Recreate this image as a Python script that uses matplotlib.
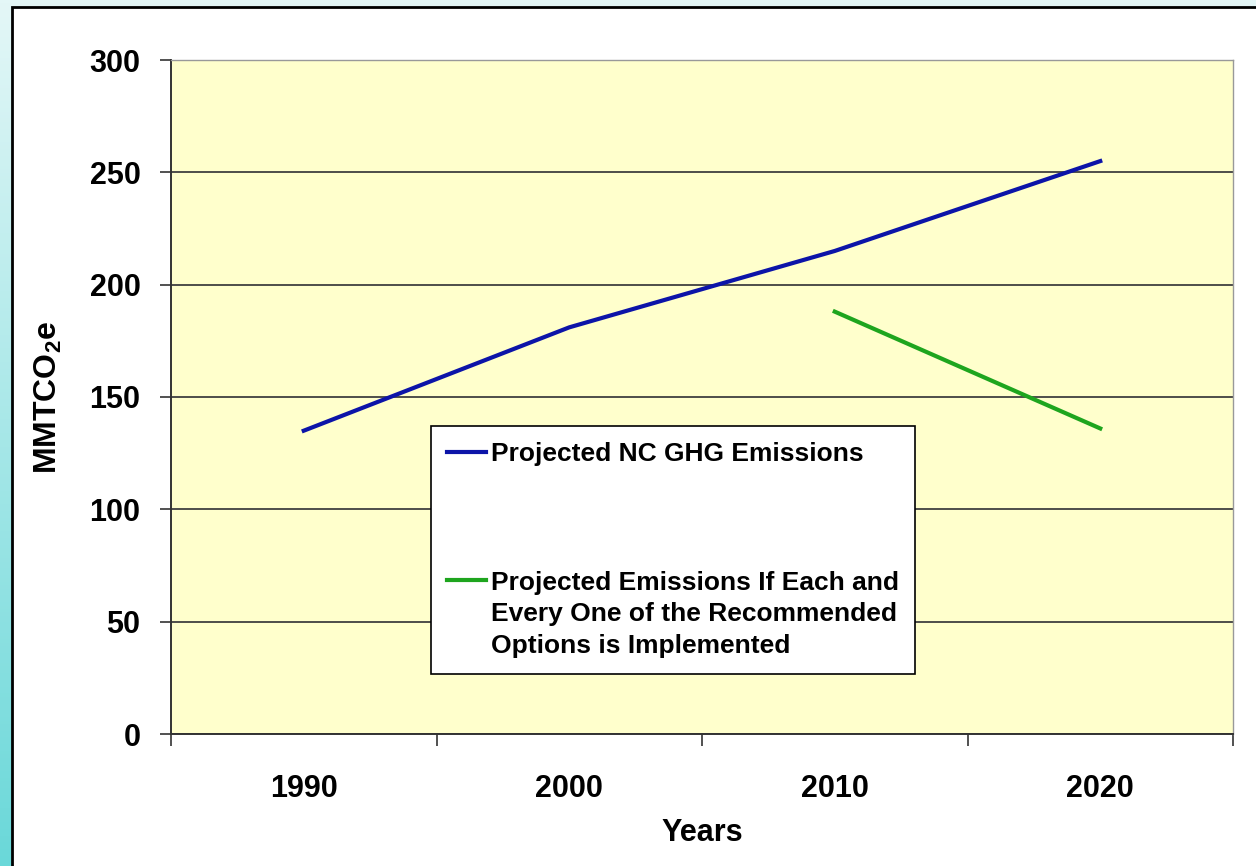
import numpy as np
import matplotlib.pyplot as plt
from matplotlib.patches import Rectangle
from matplotlib.colors import LinearSegmentedColormap

# values (MMTCO2e)
years = [1990, 1995, 2000, 2005, 2010, 2015, 2020]
ghg = [135, 158, 181, 198, 215, 235, 255]
opt_years = [2010, 2015, 2020]
opt = [188, 162, 136]
decades = [1990, 2000, 2010, 2020]
yticks = [0, 50, 100, 150, 200, 250, 300]

ghg_label = 'Projected NC GHG Emissions'
opt_label = ('Projected Emissions If Each and\n'
             'Every One of the Recommended\n'
             'Options is Implemented')

plt.rcParams['font.family'] = ['Liberation Sans', 'DejaVu Sans']
plt.rcParams['font.weight'] = 'bold'
plt.rcParams['axes.labelweight'] = 'bold'
plt.rcParams['mathtext.fontset'] = 'custom'
plt.rcParams['mathtext.rm'] = 'Liberation Sans:bold'
plt.rcParams['mathtext.it'] = 'Liberation Sans:bold'
plt.rcParams['mathtext.default'] = 'rm'

W, H = 1256, 866
fig = plt.figure(figsize=(W / 100, H / 100), dpi=100)

# slide background: cyan gradient with a white panel on top
bg = fig.add_axes([0, 0, 1, 1], zorder=-2)
cmap = LinearSegmentedColormap.from_list('slide', ['#e4f7f7', '#6ad8d9'])
bg.imshow(np.linspace(0, 1, 256).reshape(-1, 1), cmap=cmap, aspect='auto',
          extent=[0, 1, 0, 1], origin='upper')
bg.add_patch(Rectangle((12 / W, -0.1), 1.1, 1 - 7 / H + 0.1,
                       facecolor='white', edgecolor='black', lw=2))
bg.set_xlim(0, 1)
bg.set_ylim(0, 1)
bg.axis('off')

ax = fig.add_axes([171 / W, 1 - 734 / H, (1233 - 171) / W, (734 - 60) / H])
ax.set_facecolor('#ffffcc')

ax.plot(years, ghg, color='#0c14a8', lw=3, label=ghg_label)
ax.plot(opt_years, opt, color='#1ea51e', lw=3, label=opt_label)

ax.set_xlim(decades[0] - 5, decades[-1] + 5)
ax.set_ylim(0, 300)
ax.set_yticks(yticks)
ax.set_xticks(decades)
ax.set_xticks([d - 5 for d in decades] + [decades[-1] + 5], minor=True)
ax.grid(axis='y', color='#404040', lw=1.3)
ax.set_axisbelow(True)

ax.tick_params(axis='x', which='major', length=0, pad=29, labelsize=22)
ax.tick_params(axis='x', which='minor', length=8.5, width=1.2, color='#333333')
ax.tick_params(axis='y', length=8, width=1.2, color='#333333', pad=14, labelsize=22)

for side in ['left', 'bottom']:
    ax.spines[side].set_color('#333333')
    ax.spines[side].set_linewidth(1.4)
for side in ['top', 'right']:
    ax.spines[side].set_color('#999999')
    ax.spines[side].set_linewidth(1.0)

ax.set_ylabel('MMTCO$_2$e', fontsize=23, fontweight='bold')
ax.yaxis.set_label_coords(-0.101, 0.5)
ax.set_xlabel('Years', fontsize=22, fontweight='bold')
ax.xaxis.set_label_coords(0.5, -0.124)

leg = ax.legend(loc='upper left', bbox_to_anchor=(431 / W, 1 - 426 / H),
                bbox_transform=fig.transFigure, prop={'weight': 'bold', 'size': 19},
                frameon=True, fancybox=False, edgecolor='black', facecolor='white',
                framealpha=1, borderaxespad=0, labelspacing=3.95, handlelength=1.45,
                handletextpad=0.2, borderpad=0.62)
leg.get_frame().set_linewidth(1.2)
for t in leg.get_texts():
    t.set_linespacing(1.4)
# handle next to the first line of a multi-line label, as in the original
for column in leg._legend_handle_box.get_children():
    for item in column.get_children():
        item.align = 'top'

fig.savefig('out.png', dpi=100)
